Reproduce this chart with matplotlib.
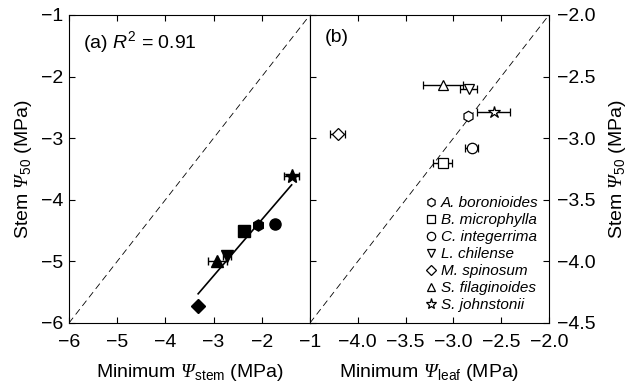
import matplotlib
matplotlib.use("Agg")
import matplotlib.pyplot as plt
from matplotlib.lines import Line2D
import numpy as np

plt.rcParams['font.family'] = 'Liberation Sans'
plt.rcParams['mathtext.fontset'] = 'custom'
plt.rcParams['mathtext.rm'] = 'Liberation Sans'
plt.rcParams['mathtext.it'] = 'Liberation Sans:italic'
# greek capital in italic serif, like the original
plt.rcParams['mathtext.sf'] = 'Liberation Serif:italic'

species = ['A. boronioides', 'B. microphylla', 'C. integerrima', 'L. chilense',
           'M. spinosum', 'S. filaginoides', 'S. johnstonii']
markers = ['h', 's', 'o', 'v', 'D', '^', '*']

# stem P50 (both panels)
p50_a = [-4.41, -4.50, -4.40, -4.91, -5.72, -4.99, -3.61]
p50_b = [-2.82, -3.20, -3.08, -2.60, -2.97, -2.57, -2.79]

# minimum stem water potential
psi_stem = [-2.07, -2.36, -1.73, -2.72, -3.32, -2.92, -1.38]
psi_stem_err = [0.0, 0.0, 0.0, 0.08, 0.0, 0.2, 0.15]

# minimum leaf water potential
psi_leaf = [-2.85, -3.11, -2.81, -2.84, -4.21, -3.11, -2.58]
psi_leaf_err = [0.0, 0.10, 0.07, 0.09, 0.08, 0.21, 0.17]

FS = 14

fig = plt.figure(figsize=(6.3, 3.87), dpi=100)
ax1 = fig.add_axes([0.1095, 0.1654, 0.3825, 0.7959])
ax2 = fig.add_axes([0.492, 0.1654, 0.3794, 0.7959])

handles = []
for i in range(len(species)):
    ms = 7 if markers[i] == 'D' else 8
    if markers[i] == '*':
        ms = 10
    ax1.errorbar(psi_stem[i], p50_a[i], xerr=psi_stem_err[i] or None,
                 fmt=markers[i], color='black', mfc='black', ms=ms,
                 capsize=3, elinewidth=1, zorder=3)
    ms2 = 6 if markers[i] == 'D' else 7.5
    if markers[i] == '*':
        ms2 = 9
    ax2.errorbar(psi_leaf[i], p50_b[i], xerr=psi_leaf_err[i] or None,
                 fmt=markers[i], color='black', mfc='white', ms=ms2, mew=0.9,
                 capsize=3, elinewidth=1, zorder=3)
    hs = 5 if markers[i] == 'D' else 6
    if markers[i] == '*':
        hs = 8
    handles.append(Line2D([], [], ls='none', marker=markers[i], color='black',
                          mfc='white', ms=hs, mew=0.9, label=species[i]))

# regression line
k, b = np.polyfit(psi_stem, p50_a, 1)
xx = np.array([min(psi_stem), max(psi_stem)])
ax1.plot(xx, k * xx + b, color='black', lw=1.2)

ax1.plot([-6, -1], [-6, -1], ls=(0, (8, 5)), color='black', lw=0.6)
ax2.plot([-4.5, -2.0], [-4.5, -2.0], ls=(0, (8, 5)), color='black', lw=0.6)

ax1.set_xlim(-6, -1)
ax1.set_ylim(-6, -1)
ax1.set_xticks([-6, -5, -4, -3, -2, -1])
ax1.set_yticks([-6, -5, -4, -3, -2, -1])
ax1.tick_params(direction='in', top=True, right=False, labelsize=FS, length=4)
ax1.tick_params(axis='x', pad=8)
ax1.tick_params(axis='y', pad=4)
ax1.set_xlabel(r'Minimum $\mathsf{\Psi}_{\mathrm{stem}}$ (MPa)', fontsize=FS,
               labelpad=8)
ax1.set_ylabel(r'Stem $\mathsf{\Psi}_{50}$ (MPa)', fontsize=FS, labelpad=5)
ax1.text(0.06, 0.955, r'(a) $R^2$ = 0.91', transform=ax1.transAxes,
         fontsize=FS, va='top')

ax2.set_xlim(-4.5, -2.0)
ax2.set_ylim(-4.5, -2.0)
ax2.set_xticks([-4.0, -3.5, -3.0, -2.5, -2.0])
ax2.set_xticklabels(['\u22124.0', '\u22123.5', '\u22123.0', '\u22122.5', '\u22122.0'])
ax2.set_yticks([-4.5, -4.0, -3.5, -3.0, -2.5, -2.0])
ax2.yaxis.tick_right()
ax2.yaxis.set_label_position('right')
ax2.tick_params(direction='in', top=True, left=True, right=True,
                labelsize=FS, length=4)
ax2.tick_params(axis='y', labelleft=False, labelright=True, pad=6)
ax2.tick_params(axis='x', pad=8)
ax2.set_xlabel(r'Minimum $\mathsf{\Psi}_{\mathrm{leaf}}$ (MPa)', fontsize=FS,
               labelpad=8)
ax2.set_ylabel(r'Stem $\mathsf{\Psi}_{50}$ (MPa)', fontsize=FS, rotation=90,
               labelpad=8)
ax2.text(0.06, 0.955, '(b)', transform=ax2.transAxes, fontsize=FS, va='top')

ax2.legend(handles=handles, loc='lower right', frameon=False,
           prop={'style': 'italic', 'size': 11}, handletextpad=0.2,
           labelspacing=0.2, borderaxespad=0.3, handlelength=0.8,
           borderpad=0.4)

fig.savefig('out.png', dpi=100)
